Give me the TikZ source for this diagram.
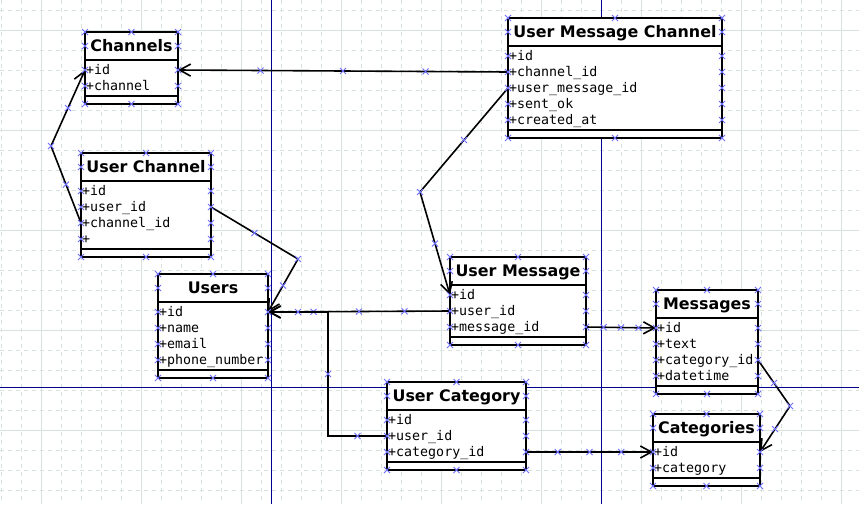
\documentclass[tikz,border=0pt]{standalone}
\usepackage{fontspec}
\setsansfont{DejaVu Sans}
\setmonofont{DejaVu Sans Mono}
\usepackage{tikz}
\definecolor{gridgray}{RGB}{214,226,222}
\definecolor{axisblue}{RGB}{0,0,140}
\definecolor{pointblue}{RGB}{110,110,255}
\usetikzlibrary{arrows.meta, positioning, calc}

\begin{document}
\begin{tikzpicture}[
        x=1pt, y=-1pt,
        classbox/.style={rectangle, draw=black, fill=white, line width=1.7pt,
                    anchor=north west, inner sep=0pt, outer sep=0pt},
        boxline/.style={line width=1.7pt},
        classtitle/.style={font=\sffamily\bfseries\fontsize{15.9}{18}\selectfont,
                    inner sep=0pt, text height=11.6pt, text depth=0pt},
        field/.style={anchor=west, xshift=1pt, inner sep=0pt, text height=9pt, text depth=1pt,
                    font=\ttfamily\fontsize{13.3}{16}\selectfont},
        gridline/.style={gridgray, line width=1pt},
        axis/.style={axisblue, line width=1pt},
        link/.style={line width=1.6pt, black},
        arrow/.style={link, -{Straight Barb[length=11pt, width=12pt]}},
        xmark/.pic={\draw[-, solid, pointblue, line width=0.9pt] (-3,-3) -- (3,3) (-3,3) -- (3,-3);}
    ]
        \useasboundingbox (0,0) rectangle (859,504);
        \fill[white] (0,0) rectangle (859,504);

        % grid and axes
        \foreach \x in {1,21,...,841} \draw[gridline, dash pattern=on 4pt off 4pt] (\x,0) -- (\x,504);
        \foreach \y in {10,30,...,490} \draw[gridline, dash pattern=on 4pt off 4pt] (0,\y) -- (859,\y);
        \foreach \x in {41,141,...,841} \draw[gridline] (\x,0) -- (\x,504);
        \foreach \y in {30,130,...,430} \draw[gridline] (0,\y) -- (859,\y);
        \draw[axis] (271.5,0) -- (271.5,504) (601.5,0) -- (601.5,504) (0,387.5) -- (859,387.5);

        % tables
        \node[classbox, minimum width=93pt, minimum height=72pt] (channels) at (85,32) {};
        \node[classbox, minimum width=130pt, minimum height=104pt] (userchannel) at (81,153) {};
        \node[classbox, minimum width=110pt, minimum height=104pt] (users) at (158,274) {};
        \node[classbox, minimum width=136pt, minimum height=88pt] (usermsg) at (450,257) {};
        \node[classbox, minimum width=139pt, minimum height=88pt] (usercat) at (387,382) {};
        \node[classbox, minimum width=214pt, minimum height=120pt] (umc) at (508,18) {};
        \node[classbox, minimum width=102pt, minimum height=104pt] (messages) at (656,290) {};
        \node[classbox, minimum width=107pt, minimum height=72pt] (categories) at (653,414) {};

        \foreach \b/\t in {channels/Channels, userchannel/User Channel, users/Users,
                usermsg/User Message, usercat/User Category, umc/User Message Channel,
                messages/Messages, categories/Categories} {
            \node[classtitle] (\b-title) at ([yshift=-14pt]\b.north) {\t};
            \draw[boxline] ([yshift=-28pt]\b.north west) -- ([yshift=-28pt]\b.north east)
                ([yshift=8pt]\b.south west) -- ([yshift=8pt]\b.south east);
        }

        \foreach \f [count=\i from 0] in {+id,+channel}
            \node[field] (channels-\i) at ([yshift={-38pt-16pt*\i}]channels.north west) {\f};
        \foreach \f [count=\i from 0] in {+id,+user\_id,+channel\_id,+}
            \node[field] (userchannel-\i) at ([yshift={-38pt-16pt*\i}]userchannel.north west) {\f};
        \foreach \f [count=\i from 0] in {+id,+name,+email,+phone\_number}
            \node[field] (users-\i) at ([yshift={-38pt-16pt*\i}]users.north west) {\f};
        \foreach \f [count=\i from 0] in {+id,+user\_id,+message\_id}
            \node[field] (usermsg-\i) at ([yshift={-38pt-16pt*\i}]usermsg.north west) {\f};
        \foreach \f [count=\i from 0] in {+id,+user\_id,+category\_id}
            \node[field] (usercat-\i) at ([yshift={-38pt-16pt*\i}]usercat.north west) {\f};
        \foreach \f [count=\i from 0] in {+id,+channel\_id,+user\_message\_id,+sent\_ok,+created\_at}
            \node[field] (umc-\i) at ([yshift={-38pt-16pt*\i}]umc.north west) {\f};
        \foreach \f [count=\i from 0] in {+id,+text,+category\_id,+datetime}
            \node[field] (messages-\i) at ([yshift={-38pt-16pt*\i}]messages.north west) {\f};
        \foreach \f [count=\i from 0] in {+id,+category}
            \node[field] (categories-\i) at ([yshift={-38pt-16pt*\i}]categories.north west) {\f};

        % relations
        \coordinate (bend-umc) at (420,192);
        \coordinate (bend-uc) at (51,146);
        \coordinate (bend-uu) at (298,259);
        \coordinate (bend-mc) at (790,406);
        \coordinate (join-uk) at (328,312);

        \draw[arrow] (umc.west |- umc-1) -- (channels.east |- channels-0)
            pic[pos=.25]{xmark} pic[pos=.5]{xmark} pic[pos=.75]{xmark};
        \draw[arrow] (umc.west |- umc-2) -- (bend-umc) pic[pos=.5]{xmark} pic[pos=1]{xmark}
            -- (usermsg.west |- usermsg-0) pic[pos=.5]{xmark};
        \draw[arrow] (userchannel.west |- userchannel-2) -- (bend-uc) pic[pos=.5]{xmark} pic[pos=1]{xmark}
            -- (channels.west |- channels-0) pic[pos=.5]{xmark};
        \draw[arrow] (userchannel.east |- userchannel-1) -- (bend-uu) pic[pos=.5]{xmark} pic[pos=1]{xmark}
            -- (users.east |- users-0) pic[pos=.5]{xmark};
        \draw[arrow] (usermsg.west |- usermsg-1) -- (users.east |- users-0)
            pic[pos=.25]{xmark} pic[pos=.5]{xmark} pic[pos=.75]{xmark};
        \draw[arrow] (usercat.west |- usercat-1) -| (join-uk) pic[pos=.25]{xmark} pic[pos=.75]{xmark}
            -- (users.east |- users-0) pic[pos=.5]{xmark};
        \draw[arrow] (usermsg.east |- usermsg-2) -- (messages.west |- messages-0)
            pic[pos=.25]{xmark} pic[pos=.5]{xmark} pic[pos=.75]{xmark};
        \draw[arrow] (messages.east |- messages-2) -- (bend-mc) pic[pos=.5]{xmark} pic[pos=1]{xmark}
            -- (categories.east |- categories-0) pic[pos=.5]{xmark};
        \draw[arrow] (usercat.east |- usercat-2) -- (categories.west |- categories-0)
            pic[pos=.25]{xmark} pic[pos=.5]{xmark} pic[pos=.75]{xmark};

        % connection points
        \foreach \b/\n in {channels/2, userchannel/4, users/4, usermsg/3, usercat/3,
                umc/5, messages/4, categories/2} {
            \foreach \a in {north west, north, north east, south west, south, south east}
                \pic at (\b.\a) {xmark};
            \pic at ([yshift=-14pt]\b.north west) {xmark};
            \pic at ([yshift=-14pt]\b.north east) {xmark};
            \foreach \i in {1,...,\n} {
                \pic at ([yshift={-22pt-16pt*\i}]\b.north west) {xmark};
                \pic at ([yshift={-22pt-16pt*\i}]\b.north east) {xmark};
            }
        }
    \end{tikzpicture}
\end{document}
